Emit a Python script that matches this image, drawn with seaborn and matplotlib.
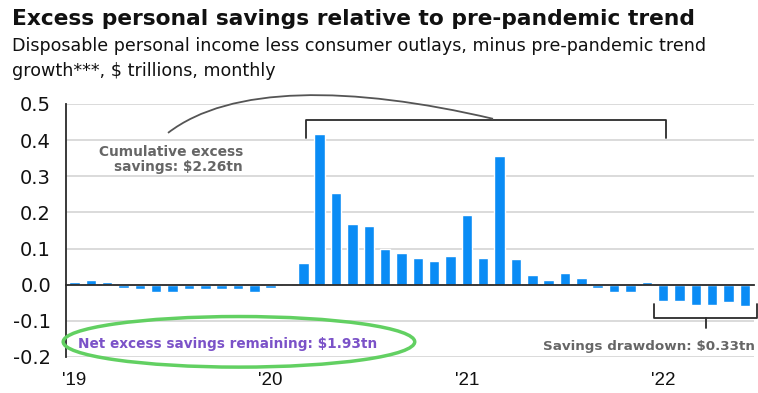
import matplotlib
matplotlib.use("Agg")
import matplotlib.pyplot as plt
from matplotlib.patches import Ellipse, PathPatch
from matplotlib.path import Path
import pandas as pd
import seaborn as sns

# Monthly excess savings, Jan 2019 - Jun 2022 ($ trillions)
months = pd.date_range("2019-01-01", "2022-06-01", freq="MS").strftime("%Y-%m").tolist()
excess_savings = [
    # 2019
    0.008, 0.012, 0.008, -0.008, -0.013, -0.019, -0.019, -0.013, -0.013, -0.013, -0.013, -0.019,
    # 2020
    -0.008, -0.002, 0.060, 0.416, 0.254, 0.168, 0.162, 0.098, 0.088, 0.074, 0.065, 0.079,
    # 2021
    0.194, 0.074, 0.356, 0.070, 0.028, 0.014, 0.032, 0.019, -0.009, -0.019, -0.019, 0.008,
    # 2022
    -0.045, -0.045, -0.056, -0.056, -0.049, -0.059,
]
year_labels = ["'19", "'20", "'21", "'22"]
y_ticks = [-0.2, -0.1, 0.0, 0.1, 0.2, 0.3, 0.4, 0.5]

title = "Excess personal savings relative to pre-pandemic trend"
subtitle_lines = ["Disposable personal income less consumer outlays, minus pre-pandemic trend",
                  "growth***, $ trillions, monthly"]
cumulative_note = "Cumulative excess\nsavings: $2.26tn"
net_note = "Net excess savings remaining: $1.93tn"
drawdown_note = "Savings drawdown: $0.33tn"

BAR_BLUE = "#0A8CF5"
DARK = "#2b2b2b"
NOTE_GRAY = "#666666"
PURPLE = "#7B52C8"
GREEN = "#62D062"

sns.set_style("white")
plt.rcParams["font.family"] = ["DejaVu Sans"]
plt.rcParams["axes.unicode_minus"] = False

df = pd.DataFrame({"month": months, "value": excess_savings})

fig = plt.figure(figsize=(7.58, 3.93), dpi=100)
ax = fig.add_axes([66.3 / 758, 36 / 393, (754 - 66.3) / 758, 253 / 393])

sns.barplot(data=df, x="month", y="value", color=BAR_BLUE, saturation=1,
            width=0.64, errorbar=None, ax=ax, zorder=3)

ax.set_xlim(-0.5, 41.56)
ax.set_ylim(-0.2, 0.5)
ax.set_xlabel("")
ax.set_ylabel("")

# y axis
ax.set_yticks(y_ticks)
ax.set_yticklabels([f"{v:.1f}" for v in y_ticks])
ax.tick_params(axis="y", length=0, pad=11, labelsize=14, labelcolor="#111111")
ax.yaxis.grid(True, color="#d4d4d4", lw=1.2)
ax.xaxis.grid(False)
ax.set_axisbelow(True)

for side in ("top", "right"):
    ax.spines[side].set_visible(False)
ax.spines["left"].set_color(DARK)
ax.spines["left"].set_linewidth(1.3)
ax.spines["left"].set_zorder(4)

# zero line with year-boundary ticks
ax.spines["bottom"].set_position(("data", 0))
ax.spines["bottom"].set_color(DARK)
ax.spines["bottom"].set_linewidth(1.3)
ax.spines["bottom"].set_zorder(4)
year_starts = [months.index(f"20{y[1:]}-01") for y in year_labels]
ax.set_xticks([i - 0.5 for i in year_starts[1:]])
ax.set_xticklabels([])
ax.tick_params(axis="x", direction="out", length=7, width=1.3, color=DARK)

# year labels along the bottom of the frame
sec = ax.secondary_xaxis("bottom")
sec.set_xticks(year_starts)
sec.set_xticklabels(year_labels, family=["Liberation Sans", "DejaVu Sans"])
sec.tick_params(length=0, pad=11, labelsize=13.5, labelcolor="#111111")
sec.spines["bottom"].set_visible(False)

# bracket over the accumulation period
i_start = months.index("2020-03") + 0.15
i_end = months.index("2022-01") + 0.2
ax.plot([i_start, i_start, i_end, i_end], [0.405, 0.456, 0.456, 0.405],
        color=DARK, lw=1.3, clip_on=False, zorder=5)

# connector from the note to the bracket
curve = Path([(5.72, 0.420), (9.51, 0.552), (16.85, 0.552), (25.6, 0.459)],
             [Path.MOVETO, Path.CURVE4, Path.CURVE4, Path.CURVE4])
ax.add_patch(PathPatch(curve, fill=False, ec="#555555", lw=1.3, clip_on=False, zorder=5))

ax.text(10.3, 0.347, cumulative_note, ha="right", va="center", multialignment="right",
        fontsize=9.9, fontweight="bold", color=NOTE_GRAY, linespacing=1.1)

# bracket under the drawdown period
j_start = months.index("2022-01") - 0.55
j_end = months.index("2022-06") + 0.74
j_mid = (j_start + j_end) / 2
ax.plot([j_start, j_start, j_end, j_end], [-0.052, -0.091, -0.091, -0.052],
        color=DARK, lw=1.3, clip_on=False, zorder=5)
ax.plot([j_mid, j_mid], [-0.091, -0.119], color=DARK, lw=1.3, clip_on=False, zorder=5)
ax.text(41.6, -0.172, drawdown_note, ha="right", va="center",
        fontsize=9.7, fontweight="bold", color=NOTE_GRAY)

# highlighted net figure
ax.add_patch(Ellipse((10.06, -0.158), 21.5, 0.140, fill=False, ec=GREEN, lw=2.5,
                     clip_on=False, zorder=5))
ax.text(9.39, -0.164, net_note, ha="center", va="center",
        fontsize=9.85, fontweight="bold", color=PURPLE)

# headings
fig.text(12 / 758, 1 - 25 / 393, title, ha="left", va="baseline",
         fontsize=15.7, fontweight="bold", color="#111111")
for k, line in enumerate(subtitle_lines):
    fig.text(12 / 758, 1 - (51 + 25 * k) / 393, line, ha="left", va="baseline",
             fontsize=12.6, color="#111111")

fig.savefig("out.png", dpi=100)
